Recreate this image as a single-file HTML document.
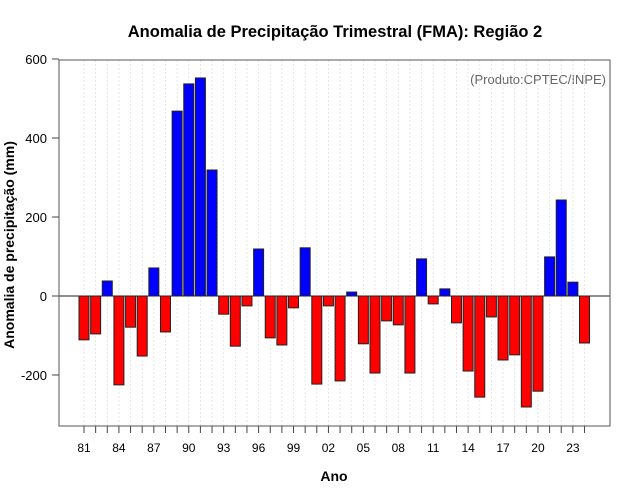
<!DOCTYPE html>
<html><head><meta charset="utf-8"><style>body{margin:0;background:#fff}svg{display:block;font-family:"Liberation Sans",sans-serif}</style></head>
<body>
<svg id="c" width="640" height="500">
<text x="335" y="37" text-anchor="middle" font-size="16.5" font-weight="bold">Anomalia de Precipitação Trimestral (FMA): Região 2</text>
<text x="606" y="84" text-anchor="end" font-size="13" fill="#666">(Produto:CPTEC/INPE)</text>
<text x="334" y="481" text-anchor="middle" font-size="14" font-weight="bold">Ano</text>
<text transform="translate(14,245) rotate(-90)" text-anchor="middle" font-size="14" font-weight="bold">Anomalia de precipitação (mm)</text>
<g id="grid"></g><g id="bars"></g><g id="axes"></g>
</svg>
<script>
const years=[1981,1982,1983,1984,1985,1986,1987,1988,1989,1990,1991,1992,1993,1994,1995,1996,1997,1998,1999,2000,2001,2002,2003,2004,2005,2006,2007,2008,2009,2010,2011,2012,2013,2014,2015,2016,2017,2018,2019,2020,2021,2022,2023,2024];
const anomalies=[-111,-96,38,-225,-79,-152,71,-91,468,537,552,319,-46,-127,-25,119,-106,-124,-30,122,-223,-25,-215,10,-121,-195,-63,-73,-195,94,-20,18,-68,-190,-256,-53,-162,-149,-281,-241,99,243,35,-119];
const yTicks=[-200,0,200,400,600];
const NS='http://www.w3.org/2000/svg';
const L=59,R=610,T=60,B=426;
const y=v=>296-v*0.395;
const x=i=>84+i*11.64;
function mk(t,a,p){const e=document.createElementNS(NS,t);for(const k in a)e.setAttribute(k,a[k]);p.appendChild(e);return e;}
const grid=document.getElementById('grid'),bars=document.getElementById('bars'),axes=document.getElementById('axes');
years.forEach((yr,i)=>{
 const g=mk('line',{x1:x(i),x2:x(i),y1:T,y2:B,stroke:'#ddd','stroke-dasharray':'2,2','stroke-width':0.7},grid);
 
 
 const v=anomalies[i];
 const r=mk('rect',{x:x(i)-5,y:Math.min(y(v),y(0)),width:10,height:Math.abs(y(v)-y(0)),fill:v>=0?'#0000ff':'#ff0000',stroke:'#222','stroke-width':1},bars);
 
 
 const tk=mk('line',{x1:x(i),x2:x(i),y1:B,y2:B+7,stroke:'#444'},axes);
 
 
 if(i%3===0){const t=mk('text',{x:x(i),y:452,'text-anchor':'middle','font-size':12},axes);t.textContent=String(yr%100).padStart(2,'0');
 
 }
});
const zl=mk('line',{x1:L,x2:R,y1:y(0),y2:y(0),stroke:'#222'},axes);


const fr=mk('rect',{x:L,y:T,width:R-L,height:B-T,fill:'none',stroke:'#555'},axes);


yTicks.forEach(v=>{
 const tk=mk('line',{x1:L-7,x2:L,y1:y(v),y2:y(v),stroke:'#444'},axes);
 
 
 const t=mk('text',{x:L-12,y:y(v)+5,'text-anchor':'end','font-size':13},axes);t.textContent=v;
 
 
});
</script>
</body></html>
